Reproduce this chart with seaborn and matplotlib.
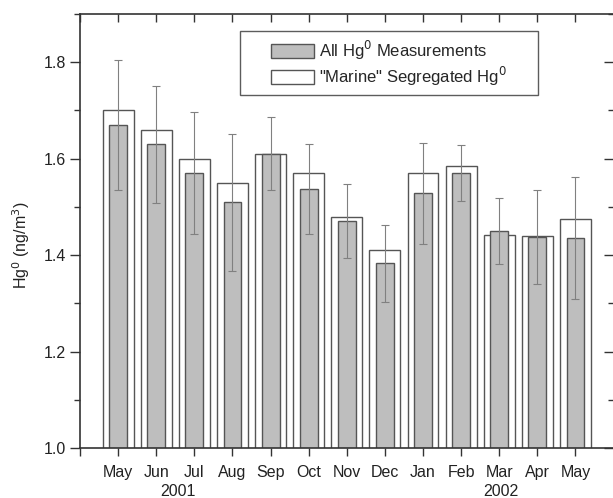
import matplotlib
matplotlib.use("Agg")
import matplotlib.pyplot as plt
from matplotlib.patches import Patch, Rectangle
from matplotlib.legend_handler import HandlerPatch
from matplotlib.ticker import MultipleLocator, FormatStrFormatter
import matplotlib.lines as mlines
import numpy as np
import pandas as pd
import seaborn as sns

# Monthly mean Hg0 concentrations (ng/m3), May 2001 - May 2002
months = ["May", "Jun", "Jul", "Aug", "Sep", "Oct", "Nov", "Dec",
          "Jan", "Feb", "Mar", "Apr", "May"]
years = [2001] * 8 + [2002] * 5
all_hg = [1.67, 1.63, 1.57, 1.51, 1.61, 1.537, 1.470, 1.383,
          1.528, 1.571, 1.450, 1.438, 1.436]
all_hg_sd = [0.135, 0.121, 0.127, 0.142, 0.076, 0.093, 0.077, 0.080,
             0.105, 0.058, 0.069, 0.097, 0.127]
marine_hg = [1.70, 1.66, 1.60, 1.55, 1.61, 1.57, 1.478, 1.410,
             1.570, 1.584, 1.442, 1.440, 1.475]

periods = [f"{m} {y}" for m, y in zip(months, years)]
df = pd.DataFrame({"period": periods, "all": all_hg, "sd": all_hg_sd,
                   "marine": marine_hg})

sns.set_theme(style="ticks")
plt.rcParams["font.family"] = ["Liberation Sans", "DejaVu Sans"]
FS = 11.5
TXT = "#222222"

fig = plt.figure(figsize=(6.13, 4.98), dpi=100)
ax = fig.add_axes([0.1305, 0.1004, 0.8705, 0.8715])

edge = "#555555"
sns.barplot(data=df, x="period", y="marine", order=periods, color="white",
            width=0.81, edgecolor=edge, linewidth=1.0, saturation=1,
            errorbar=None, ax=ax)
sns.barplot(data=df, x="period", y="all", order=periods, color="#bebebe",
            width=0.47, edgecolor=edge, linewidth=1.0, saturation=1,
            errorbar=None, ax=ax)

# standard deviations of the full data set
ax.errorbar(np.arange(len(periods)), df["all"], yerr=df["sd"], fmt="none",
            ecolor="#808080", elinewidth=0.8, capsize=3, capthick=0.8,
            zorder=5)

n = len(periods)
ax.set_xlim(-1, n)
ax.set_ylim(1.0, 1.9)
ax.set_xticks(range(-1, n + 1))
ax.set_xticklabels([""] + months + [""], fontsize=FS, color=TXT)
ax.set_xlabel("")
ax.set_ylabel("Hg$^0$ (ng/m$^3$)", fontsize=FS, color=TXT)
ax.yaxis.set_label_coords(-0.09, 0.468)

ax.yaxis.set_major_locator(MultipleLocator(0.2))
ax.yaxis.set_minor_locator(MultipleLocator(0.1))
ax.yaxis.set_major_formatter(FormatStrFormatter("%.1f"))
ax.tick_params(axis="y", which="major", direction="out", length=7,
               width=1.0, color="#333333", labelsize=FS, labelcolor=TXT,
               right=True, pad=3)
ax.tick_params(axis="y", which="minor", direction="out", length=4,
               width=1.0, color="#333333", right=True)
ax.tick_params(axis="x", direction="out", length=6, width=1.0,
               color="#333333", top=True, pad=6)
for t in ax.yaxis.get_major_ticks() + ax.yaxis.get_minor_ticks():
    t.tick2line.set_marker(mlines.TICKLEFT)
for t in ax.xaxis.get_major_ticks():
    t.tick2line.set_marker(mlines.TICKDOWN)

for side in ["left", "bottom", "top"]:
    ax.spines[side].set_visible(True)
    ax.spines[side].set_color("#333333")
    ax.spines[side].set_linewidth(1.2)
ax.spines["right"].set_visible(False)

# year labels under the month ticks
ax.text(1.56, -0.083, "2001", transform=ax.get_xaxis_transform(),
        ha="center", va="top", fontsize=FS, color=TXT)
ax.text(10.04, -0.083, "2002", transform=ax.get_xaxis_transform(),
        ha="center", va="top", fontsize=FS, color=TXT)


def inset_swatch(legend, orig_handle, xdescent, ydescent, width, height,
                 fontsize):
    # swatch sits in the right part of the handle box
    w = width * 0.65
    return Rectangle((-xdescent + width - w, -ydescent), w, height)


handles = [Patch(facecolor="#bebebe", edgecolor=edge, linewidth=1.0),
           Patch(facecolor="white", edgecolor=edge, linewidth=1.0)]
labels = ["All Hg$^0$ Measurements", "\"Marine\" Segregated Hg$^0$"]
leg = ax.legend(handles, labels, loc="upper left",
                bbox_to_anchor=(0.300, 0.961, 0.559, 0.0), mode="expand",
                fontsize=12, frameon=True, fancybox=False, edgecolor="#333333",
                handlelength=4.0, handleheight=0.95, handletextpad=0.3,
                borderpad=0.45, labelspacing=0.2, borderaxespad=0,
                handler_map={Patch: HandlerPatch(patch_func=inset_swatch)})
leg.get_frame().set_linewidth(1.0)

fig.savefig("out.png", dpi=100)
